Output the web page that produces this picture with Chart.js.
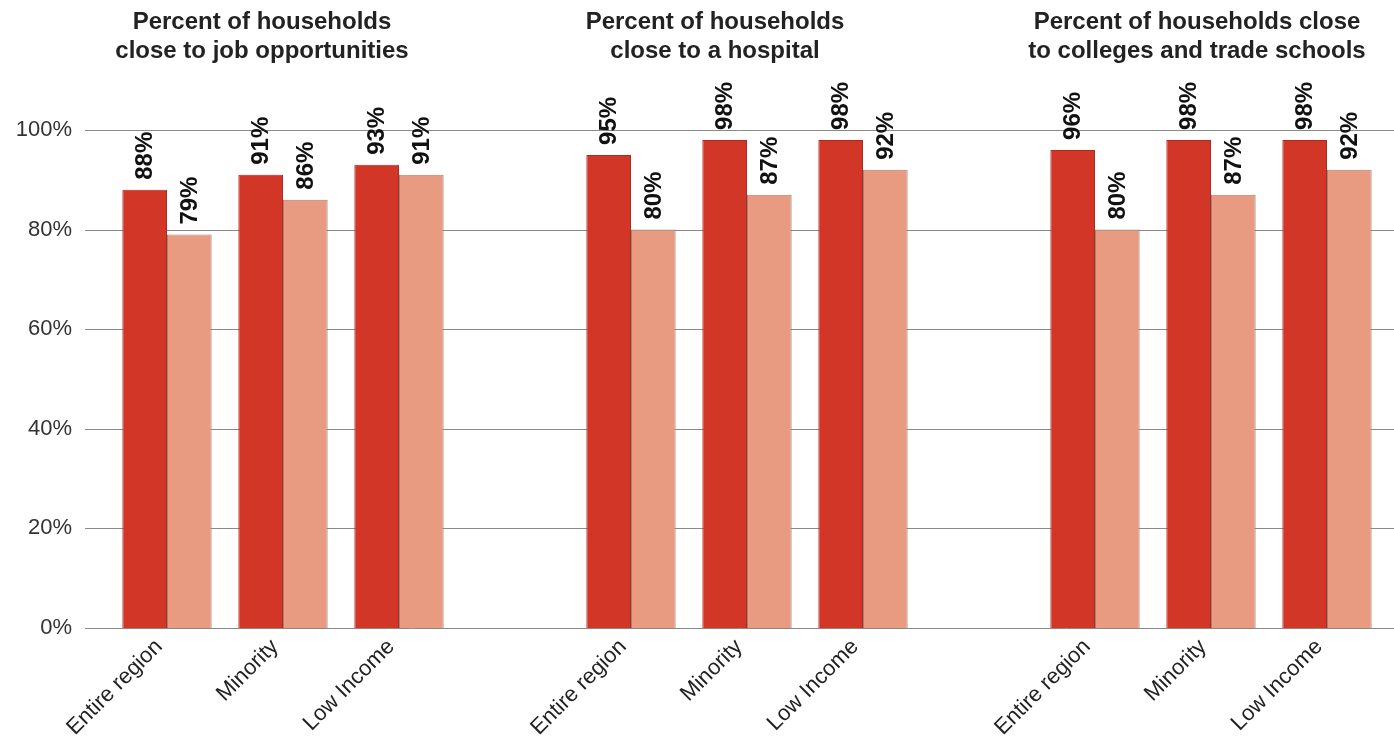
<!DOCTYPE html>
<html lang="en">
<head>
  <meta charset="UTF-8">
  <title>Households close to opportunities</title>
  <script src="https://cdn.jsdelivr.net/npm/chart.js"></script>
  <style>
    body { margin: 0; background: #fff; }
    canvas { display: block; }
  </style>
</head>
<body>
  <canvas id="accessChart" width="1394" height="740"></canvas>

  <script>
    // categories (empty slots separate the three panels)
    const categories = ['Entire region', 'Minority', 'Low Income', '',
                        'Entire region', 'Minority', 'Low Income', '',
                        'Entire region', 'Minority', 'Low Income'];
    const darkValues  = [88, 91, 93, null, 95, 98, 98, null, 96, 98, 98];
    const lightValues = [79, 86, 91, null, 80, 87, 92, null, 80, 87, 92];
    const yTicks = [0, 20, 40, 60, 80, 100];
    const panelTitles = [
      ['Percent of households', 'close to job opportunities'],
      ['Percent of households', 'close to a hospital'],
      ['Percent of households close', 'to colleges and trade schools']
    ];

    const FONT = '"Liberation Sans", Arial, sans-serif';

    // grid lines drawn wider than the plot area, behind the bars
    const gridPlugin = {
      id: 'wideGrid',
      beforeDatasetsDraw(chart) {
        const ctx = chart.ctx;
        const y = chart.scales.y;
        ctx.save();
        ctx.strokeStyle = '#8a8a8a';
        ctx.lineWidth = 1;
        yTicks.forEach(v => {
          const py = Math.round(y.getPixelForValue(v)) + 0.5;
          ctx.beginPath();
          ctx.moveTo(85, py);
          ctx.lineTo(chart.width, py);
          ctx.stroke();
        });
        ctx.restore();
      }
    };

    // rotated value labels above each bar + panel titles
    const labelPlugin = {
      id: 'barLabels',
      afterDatasetsDraw(chart) {
        const ctx = chart.ctx;
        ctx.save();
        ctx.fillStyle = '#111';
        ctx.font = 'bold 24px ' + FONT;
        ctx.textAlign = 'left';
        ctx.textBaseline = 'middle';
        chart.data.datasets.forEach((ds, di) => {
          chart.getDatasetMeta(di).data.forEach((bar, i) => {
            const v = ds.data[i];
            if (v == null) return;
            ctx.save();
            ctx.translate(bar.x, bar.y - 10);
            ctx.rotate(-Math.PI / 2);
            ctx.fillText(v + '%', 0, 1);
            ctx.restore();
          });
        });

        ctx.font = 'bold 24px ' + FONT;
        ctx.fillStyle = '#222';
        ctx.textAlign = 'center';
        ctx.textBaseline = 'alphabetic';
        const titleX = [262, 715, 1197];
        panelTitles.forEach((lines, k) => {
          ctx.fillText(lines[0], titleX[k], 29);
          ctx.fillText(lines[1], titleX[k], 58);
        });
        ctx.restore();
      }
    };

    new Chart(document.getElementById('accessChart').getContext('2d'), {
      type: 'bar',
      data: {
        labels: categories,
        datasets: [
          {
            label: 'Dark',
            data: darkValues,
            backgroundColor: '#d13627',
            borderColor: '#b02a1e',
            borderWidth: 1,
            categoryPercentage: 0.77,
            barPercentage: 1.0
          },
          {
            label: 'Light',
            data: lightValues,
            backgroundColor: '#e99b82',
            borderColor: '#a08478',
            borderWidth: 1,
            categoryPercentage: 0.77,
            barPercentage: 1.0
          }
        ]
      },
      options: {
        responsive: false,
        animation: false,
        layout: { padding: { top: 130, right: 9, left: 0, bottom: 0 } },
        plugins: {
          legend: { display: false },
          tooltip: { enabled: false }
        },
        scales: {
          x: {
            grid: { display: false, drawTicks: false },
            border: { display: false },
            ticks: {
              autoSkip: false,
              maxRotation: 45,
              minRotation: 45,
              padding: 6,
              labelOffset: -8,
              color: '#222',
              font: { family: FONT, size: 22 }
            },
            afterFit(scale) { scale.height = 112; }
          },
          y: {
            min: 0,
            max: 100,
            grid: { display: false, drawTicks: false },
            border: { display: false },
            afterBuildTicks(scale) { scale.ticks = yTicks.map(v => ({ value: v })); },
            ticks: {
              padding: 37,
              color: '#333',
              font: { family: FONT, size: 22 },
              callback: v => v + '%'
            },
            afterFit(scale) { scale.width = 109; }
          }
        }
      },
      plugins: [gridPlugin, labelPlugin]
    });
  </script>
</body>
</html>
